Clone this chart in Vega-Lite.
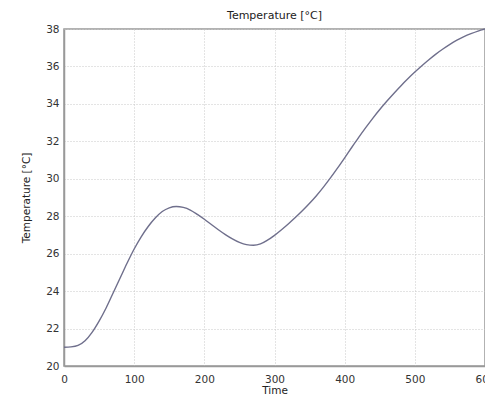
{
  "$schema": "https://vega.github.io/schema/vega-lite/v6.json",
  "width": 421,
  "height": 337,
  "autosize": "none",
  "padding": {"left": 64, "top": 29, "right": 0, "bottom": 33},
  "background": "white",
  "title": {"text": "Temperature [°C]", "fontSize": 11, "fontWeight": "normal", "font": "DejaVu Sans", "color": "#222", "offset": 3, "anchor": "middle"},
  "config": {
    "view": {"stroke": "#999", "strokeWidth": 1.5},
    "axis": {
      "labelFont": "DejaVu Sans", "labelFontSize": 10.5, "labelColor": "#333",
      "titleFont": "DejaVu Sans", "titleFontSize": 10.5, "titleFontWeight": "normal", "titleColor": "#222",
      "domainColor": "#999", "domainWidth": 1.5,
      "gridColor": "#c8c8c8", "gridDash": [1, 2], "gridWidth": 1,
      "ticks": false
    }
  },
  "data": {"values": [
    {"t": 0, "T": 21.0}, {"t": 10, "T": 21.02}, {"t": 20, "T": 21.1}, {"t": 30, "T": 21.35},
    {"t": 40, "T": 21.8}, {"t": 50, "T": 22.4}, {"t": 60, "T": 23.1}, {"t": 70, "T": 23.9},
    {"t": 80, "T": 24.7}, {"t": 90, "T": 25.5}, {"t": 100, "T": 26.25}, {"t": 110, "T": 26.9},
    {"t": 120, "T": 27.45}, {"t": 130, "T": 27.9}, {"t": 140, "T": 28.25}, {"t": 150, "T": 28.45},
    {"t": 160, "T": 28.52}, {"t": 170, "T": 28.47}, {"t": 180, "T": 28.33}, {"t": 190, "T": 28.1},
    {"t": 200, "T": 27.84}, {"t": 210, "T": 27.56}, {"t": 220, "T": 27.28}, {"t": 230, "T": 27.02},
    {"t": 240, "T": 26.79}, {"t": 250, "T": 26.6}, {"t": 260, "T": 26.48}, {"t": 270, "T": 26.45},
    {"t": 280, "T": 26.52}, {"t": 290, "T": 26.72}, {"t": 300, "T": 26.98}, {"t": 310, "T": 27.28},
    {"t": 320, "T": 27.6}, {"t": 330, "T": 27.94}, {"t": 340, "T": 28.3}, {"t": 350, "T": 28.69},
    {"t": 360, "T": 29.11}, {"t": 370, "T": 29.57}, {"t": 380, "T": 30.06}, {"t": 390, "T": 30.58},
    {"t": 400, "T": 31.12}, {"t": 410, "T": 31.67}, {"t": 420, "T": 32.21}, {"t": 430, "T": 32.73},
    {"t": 440, "T": 33.23}, {"t": 450, "T": 33.7}, {"t": 460, "T": 34.14}, {"t": 470, "T": 34.56},
    {"t": 480, "T": 34.96}, {"t": 490, "T": 35.34}, {"t": 500, "T": 35.7}, {"t": 510, "T": 36.04},
    {"t": 520, "T": 36.36}, {"t": 530, "T": 36.66}, {"t": 540, "T": 36.93}, {"t": 550, "T": 37.18},
    {"t": 560, "T": 37.4}, {"t": 570, "T": 37.59}, {"t": 580, "T": 37.75}, {"t": 590, "T": 37.89},
    {"t": 600, "T": 38.0}
  ]},
  "mark": {"type": "line", "interpolate": "monotone", "color": "#6f6f8c", "strokeWidth": 1.4},
  "encoding": {
    "x": {"field": "t", "type": "quantitative", "title": "Time",
      "scale": {"domain": [0, 600], "nice": false},
      "axis": {"values": [0, 100, 200, 300, 400, 500, 600], "labelPadding": 8, "titlePadding": 1, "labelFlush": false}},
    "y": {"field": "T", "type": "quantitative", "title": "Temperature [°C]",
      "scale": {"domain": [20, 38], "nice": false, "zero": false},
      "axis": {"values": [20, 22, 24, 26, 28, 30, 32, 34, 36, 38], "labelPadding": 5, "titlePadding": 14}}
  }
}
